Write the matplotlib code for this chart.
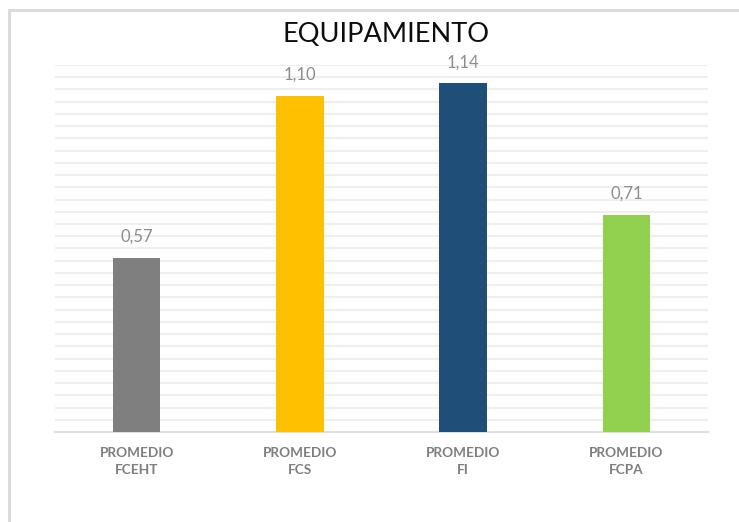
import numpy as np
import matplotlib.pyplot as plt
from matplotlib.patches import Rectangle

categories = ["PROMEDIO\nFCEHT", "PROMEDIO\nFCS", "PROMEDIO\nFI", "PROMEDIO\nFCPA"]
values = [0.57, 1.10, 1.14, 0.71]
value_labels = ["0,57", "1,10", "1,14", "0,71"]
colors = ["#7f7f7f", "#ffc000", "#1f4e79", "#92d050"]

W, H = 739, 522
fig = plt.figure(figsize=(W / 100, H / 100), dpi=100)
plt.rcParams['font.family'] = ['Lato', 'DejaVu Sans']

# chart frame (extends past the right and bottom edges)
fig.patches.append(Rectangle((9 / W, -0.1), 1.2, 1 - 10 / H + 0.1,
                             transform=fig.transFigure, fill=False,
                             edgecolor="#d9d9d9", linewidth=2))

ax = fig.add_axes([55 / W, 1 - 432 / H, (708 - 55) / W, (432 - 65) / H])
x = np.arange(len(categories))
ax.bar(x, values, width=0.29, color=colors, zorder=3)

ax.set_xlim(-0.5, 3.5)
ax.set_ylim(0, 1.2)
ax.set_yticks(np.arange(0, 1.2001, 0.04))
ax.yaxis.grid(True, color="#efefef", linewidth=1.5, zorder=0)
ax.tick_params(axis="y", length=0, labelleft=False)
ax.tick_params(axis="x", length=0, pad=11)
ax.set_xticks(x)
ax.set_xticklabels(categories, fontsize=9.8, color="#7f7f7f", fontweight="bold",
                   linespacing=1.45)
for s in ["top", "right", "left"]:
    ax.spines[s].set_visible(False)
ax.spines["bottom"].set_color("#e0e0e0")
ax.spines["bottom"].set_linewidth(1.5)

for xi, v, lab in zip(x, values, value_labels):
    ax.text(xi, v + 0.068, lab, ha="center", va="center", fontsize=12,
            color="#8c8c8c")

fig.text(386 / W, 1 - 35 / H, "EQUIPAMIENTO", ha="center", va="center",
         fontsize=19.5, color="#0d0d0d")

fig.savefig("out.png", dpi=100)
